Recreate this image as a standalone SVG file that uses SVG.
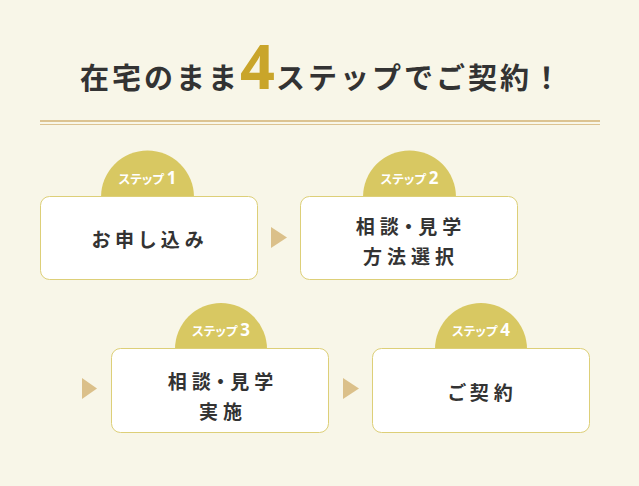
<svg xmlns="http://www.w3.org/2000/svg" width="639" height="486" viewBox="0 0 639 486">
<style>
.bg{fill:#f8f6e8}
.box{fill:#ffffff;stroke:#ddcf78;stroke-width:1}
.tab{fill:#d8c862}
.tabt{fill:#ffffff;font-family:"Noto Sans CJK JP","Noto Sans",sans-serif;font-weight:700;font-size:12.5px;text-anchor:middle;font-feature-settings:"palt"}
.tabt .n{font-size:17px;font-family:"Noto Sans","Noto Sans CJK JP",sans-serif}
.lbl{fill:#333333;font-family:"Noto Sans CJK JP",sans-serif;font-weight:700;font-size:19px;text-anchor:middle;letter-spacing:5px;font-feature-settings:"palt"}
.arr{fill:#dbc08a}
.title{fill:#333333;font-family:"Noto Sans CJK JP",sans-serif;font-weight:700;font-size:29px;text-anchor:middle;letter-spacing:3px}
</style>
<rect class="bg" x="0" y="0" width="639" height="486"/>
<text class="title" x="322" y="89">在宅のまま<tspan fill="#c9a52a" font-size="61" font-family="Noto Sans, sans-serif" letter-spacing="1">4</tspan>ステップでご契約！</text>
<rect x="40" y="120" width="560" height="2" fill="#dcc391"/>
<rect x="40" y="124" width="560" height="1" fill="#dcc391"/>
<g id="connectors">
<polygon class="arr" points="271,227 287,237.5 271,248"/>
<polygon class="arr" points="82,378 97,388.5 82,399"/>
<polygon class="arr" points="343,378 359,388.5 343,399"/>
</g>
<g id="step1">
<path class="tab" d="M101,197 A46.5,46.5 0 0 1 194,197 Z"/>
<rect class="box" x="40.5" y="196.5" width="217" height="83" rx="9"/>
<text class="tabt" x="147.5" y="184">ステップ <tspan class="n">1</tspan></text>
<text class="lbl" x="150" y="247">お申し込み</text>
</g>
<g id="step2">
<path class="tab" d="M363,197 A46.5,46.5 0 0 1 456,197 Z"/>
<rect class="box" x="300.5" y="196.5" width="217" height="83" rx="9"/>
<text class="tabt" x="409.5" y="184">ステップ <tspan class="n">2</tspan></text>
<text class="lbl" x="411" y="234">相談・見学</text>
<text class="lbl" x="411" y="264">方法選択</text>
</g>
<g id="step3">
<path class="tab" d="M175,349 A46,46 0 0 1 267,349 Z"/>
<rect class="box" x="111.5" y="348.5" width="217" height="84" rx="9"/>
<text class="tabt" x="221" y="336">ステップ <tspan class="n">3</tspan></text>
<text class="lbl" x="223" y="389">相談・見学</text>
<text class="lbl" x="223" y="419">実施</text>
</g>
<g id="step4">
<path class="tab" d="M435,349 A46,46 0 0 1 527,349 Z"/>
<rect class="box" x="372.5" y="348.5" width="217" height="84" rx="9"/>
<text class="tabt" x="481" y="336">ステップ <tspan class="n">4</tspan></text>
<text class="lbl" x="483" y="400">ご契約</text>
</g>
</svg>
